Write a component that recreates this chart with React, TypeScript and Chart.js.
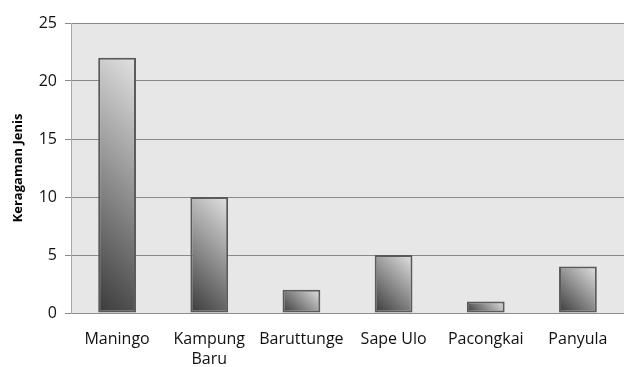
import React, { useEffect, useRef } from "react";
import { Chart, registerables } from "chart.js";

Chart.register(...registerables);

const categories: (string | string[])[] = ["Maningo", ["Kampung", "Baru"], "Baruttunge", "Sape Ulo", "Pacongkai", "Panyula"];
const values: number[] = [22, 10, 2, 5, 1, 4];
const yTicks: number[] = [0, 5, 10, 15, 20, 25];
const yTitle = "Keragaman Jenis";

const FONT = "'Open Sans', sans-serif";

const bgPlugin = {
  id: "plotBg",
  beforeDraw(chart: any) {
    const { ctx, chartArea } = chart;
    ctx.save();
    ctx.fillStyle = "#e7e7e7";
    ctx.fillRect(chartArea.left, chartArea.top, chartArea.right - chartArea.left, chartArea.bottom - chartArea.top);
    ctx.restore();
  },
};

export default function App() {
  const ref = useRef<HTMLCanvasElement>(null);
  useEffect(() => {
    document.body.style.margin = "0";
    const barPct = 0.41;
    const chart = new Chart(ref.current!, {
      type: "bar",
      data: {
        labels: categories as any,
        datasets: [
          {
            data: values,
            barPercentage: barPct,
            categoryPercentage: 1,
            borderColor: "#5a5a5a",
            borderWidth: 2,
            borderSkipped: false,
            backgroundColor: (c: any) => {
              const chart = c.chart;
              const xs = chart.scales.x;
              const ys = chart.scales.y;
              if (!xs || !ys || c.dataIndex === undefined) return "#888";
              const x = xs.getPixelForValue(c.dataIndex);
              const w = (xs.width / categories.length) * barPct;
              const top = ys.getPixelForValue(values[c.dataIndex]);
              const bottom = ys.getPixelForValue(0);
              if (!isFinite(x) || !isFinite(top)) return "#888";
              const h = bottom - top;
              const x0 = x - w / 2;
              const d = (w + h) / 2;
              const g = chart.ctx.createLinearGradient(x0, bottom, x0 + d, bottom - d);
              g.addColorStop(0, "#3a3a3a");
              g.addColorStop(1, "#e2e2e2");
              return g;
            },
          },
        ],
      },
      options: {
        animation: false,
        responsive: false,
        maintainAspectRatio: false,
        layout: { padding: { top: 23, right: -2, left: 0, bottom: 0 } },
        plugins: { legend: { display: false }, tooltip: { enabled: false } },
        scales: {
          x: {
            grid: { display: false, drawTicks: false },
            border: { color: "#8c8c8c", width: 1 },
            ticks: { color: "#111", font: { family: FONT, size: 16, lineHeight: 1.25 }, padding: 16, maxRotation: 0, autoSkip: false },
            afterFit: (s: any) => { s.height = 54; },
          },
          y: {
            min: 0,
            max: 25,
            afterBuildTicks: (s: any) => { s.ticks = yTicks.map((v) => ({ value: v })); },
            grid: { color: "#8a8a8a", tickLength: 6, lineWidth: 1 },
            border: { color: "#a8a8a8", width: 1 },
            ticks: { color: "#111", font: { family: FONT, size: 16 }, padding: 8 },
            title: { display: true, text: yTitle, color: "#000", font: { family: FONT, size: 13, weight: "bold" }, padding: { top: 10, bottom: 0 } },
            afterFit: (s: any) => { s.width = 71; },
          },
        },
      },
      plugins: [bgPlugin],
    });
    return () => chart.destroy();
  }, []);
  return (
    <div style={{ width: 624, height: 367, background: "#fff" }}>
      <canvas ref={ref} width={624} height={367} />
    </div>
  );
}
